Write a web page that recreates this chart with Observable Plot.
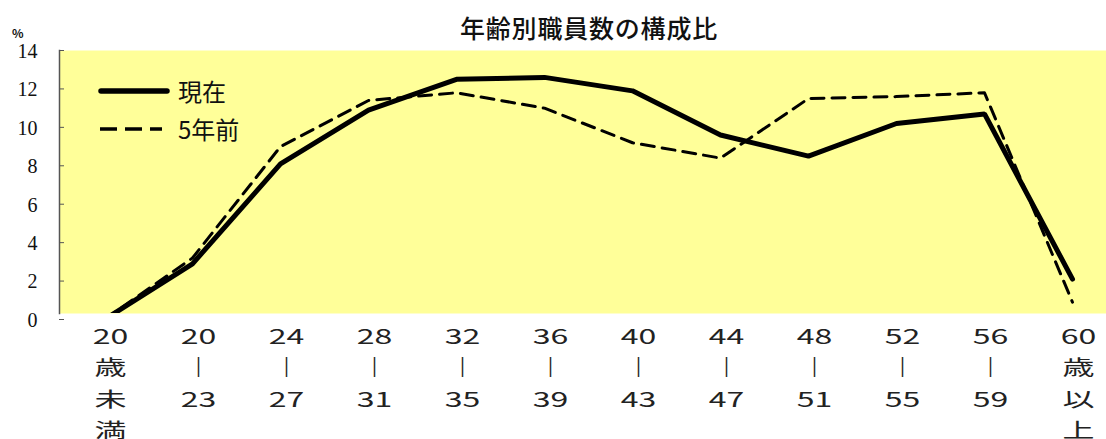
<!DOCTYPE html>
<html>
<head>
<meta charset="utf-8">
<script src="https://cdn.jsdelivr.net/npm/d3@7"></script>
<script src="https://cdn.jsdelivr.net/npm/@observablehq/plot@0.6"></script>
<style>
  html, body { margin: 0; padding: 0; background: #fff; }
  #wrap { position: relative; width: 1106px; height: 439px; overflow: hidden; font-family: "Noto Sans CJK JP", sans-serif; }
  #title { position: absolute; left: 72px; width: 1034px; top: 10px; text-align: center; font-size: 25px; letter-spacing: 0.8px; line-height: 34px; color: #111; font-weight: 500; }
  #pct { position: absolute; left: 12px; top: 24px; font-size: 12px; color: #111; font-weight: bold; }
  #legend { position: absolute; left: 98px; top: 72px; }
  .lg-row { display: flex; align-items: center; height: 38px; }
  .lg-row span { font-size: 24px; color: #111; margin-left: 8px; line-height: 1; }
  #chart svg { display: block; }
</style>
</head>
<body>
<div id="wrap">
  <div id="chart"></div>
  <div id="title">年齢別職員数の構成比</div>
  <div id="pct">%</div>
  <div id="legend"></div>
</div>
<script>
// ---- data ----
const categories = ["20\n歳\n未\n満", "20\n｜\n23", "24\n｜\n27", "28\n｜\n31", "32\n｜\n35", "36\n｜\n39",
                    "40\n｜\n43", "44\n｜\n47", "48\n｜\n51", "52\n｜\n55", "56\n｜\n59", "60\n歳\n以\n上"];
const current   = [0.0, 2.9, 8.1, 10.9, 12.5, 12.6, 11.9, 9.6, 8.5, 10.2, 10.7, 2.1];
const fiveYearsAgo = [0.0, 3.2, 9.0, 11.4, 11.8, 11.0, 9.2, 8.4, 11.5, 11.6, 11.8, 0.9];
const seriesNames = ["現在", "5年前"];
const yTicks = [0, 2, 4, 6, 8, 10, 12, 14];

const rowsCurrent = categories.map((c, i) => ({cat: c, value: current[i]}));
const rowsPast = categories.map((c, i) => ({cat: c, value: fiveYearsAgo[i]}));

const W = 1106, H = 439, mL = 59, mT = 50, mB = 126;

const chart = Plot.plot({
  width: W,
  height: H,
  marginLeft: mL,
  marginRight: 0,
  marginTop: mT,
  marginBottom: mB,
  x: {type: "point", domain: categories, range: [103, 1073], padding: 0},
  y: {domain: [0, 14], range: [319, 50]},
  marks: [
    Plot.frame({fill: "#FFFF99", stroke: null}),
    Plot.tickY(yTicks, {y: d => d, stroke: "#555", strokeWidth: 1, insetRight: W - mL - 5}),
    Plot.frame({anchor: "left", stroke: "#555", strokeWidth: 1.5}),
    Plot.axisY(yTicks, {tickSize: 0, tickPadding: 22, fontSize: 20, fontFamily: "Liberation Serif", fill: "#111", dy: 1, tickFormat: d => String(d), label: null}),
    Plot.axisX({tickSize: 0, tickPadding: 8, fontSize: 20, fontFamily: "Noto Sans CJK JP", lineHeight: 1.575, fill: "#222", dx: 6, label: null}),
    Plot.line(rowsPast, {x: "cat", y: "value", stroke: "#000", strokeWidth: 3, strokeDasharray: "13,8", clip: true}),
    Plot.line(rowsCurrent, {x: "cat", y: "value", stroke: "#000", strokeWidth: 5, strokeLinejoin: "miter", clip: true})
  ]
});

document.getElementById("chart").appendChild(chart);

// stretch the x tick labels horizontally like the reference
const xg = chart.querySelector('[aria-label="x-axis tick label"]');
if (xg) {
  xg.querySelectorAll("text").forEach(t => {
    const tr = t.getAttribute("transform") || "";
    t.setAttribute("transform", tr + " scale(1.6,1)");
  });
}

// legend
const legend = document.getElementById("legend");
const swatches = [
  `<svg width="72" height="10"><line x1="3" y1="5" x2="69" y2="5" stroke="#000" stroke-width="5.5" stroke-linecap="round"/></svg>`,
  `<svg width="72" height="10"><line x1="2" y1="5" x2="64" y2="5" stroke="#000" stroke-width="3.5" stroke-dasharray="17,8"/></svg>`
];
seriesNames.forEach((name, i) => {
  const row = document.createElement("div");
  row.className = "lg-row";
  row.innerHTML = swatches[i] + `<span>${name}</span>`;
  legend.appendChild(row);
});
</script>
</body>
</html>
